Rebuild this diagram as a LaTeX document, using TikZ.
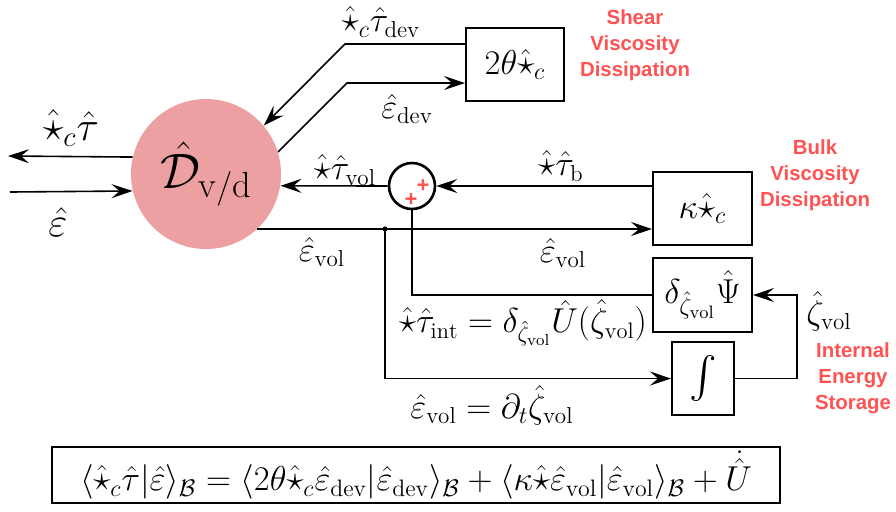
\documentclass[tikz,border=0pt]{standalone}
\usepackage{amsmath}
\usepackage{fontspec}
\newfontfamily\redfont{Liberation Sans}
\usetikzlibrary{arrows.meta}
\definecolor{pinkc}{RGB}{237,160,161}
\definecolor{redc}{RGB}{255,82,82}
\begin{document}
\begin{tikzpicture}[x=0.5pt,y=-0.5pt,
  wire/.style={line width=0.8pt},
  arr/.style={wire,-{Stealth[length=10.5pt,width=7pt,inset=4pt]}},
  blk/.style={draw,line width=1pt,inner sep=0pt,font=\fontsize{18}{21}\selectfont},
  lab/.style={inner sep=0pt,font=\fontsize{16.5}{19}\selectfont},
  biglab/.style={inner sep=0pt,font=\fontsize{21}{24}\selectfont},
  plus/.style={text=redc,inner sep=0pt,font=\redfont\bfseries\fontsize{11}{11}\selectfont},
  redlab/.style={text=redc,align=center,inner sep=0pt,font=\redfont\bfseries\fontsize{10.2}{13}\selectfont}]
\useasboundingbox (0,0) rectangle (896,511);
% main circle
\node[circle,fill=pinkc,minimum size=75pt,inner sep=0pt,font=\fontsize{26}{30}\selectfont] (D) at (206,174) {$\hat{\mathcal{D}}_{\mathrm{v/d}}$};
% blocks
\node[blk,minimum width=49pt,minimum height=36.5pt] (T) at (515,64.5) {$2\theta\hat{\star}_c$};
\node[blk,minimum width=49.5pt,minimum height=36.5pt] (K) at (702.5,208.5) {$\kappa\hat{\star}_c$};
\node[blk,minimum width=49.5pt,minimum height=37pt] (P) at (702.5,295) {$\delta_{\hat{\zeta}_{\mathrm{vol}}}\hat{\Psi}$};
\node[blk,minimum width=31pt,minimum height=36.5pt,font=\fontsize{20}{23}\selectfont] (I) at (703,378.5) {$\int$};
% summing junction
\node[circle,draw,line width=1.3pt,minimum size=23pt,inner sep=0pt] (S) at (412,186) {};
\node[plus] (p1) at (423,186) {+};
\node[plus] (p2) at (411,200) {+};
% coordinates
\coordinate (outl) at (8,156);
\coordinate (inl) at (10,192);
\coordinate (t1) at (345,44);
\coordinate (t2) at (347,83);
\coordinate (j) at (385,229);
\coordinate (rc) at (797,295);
% connectors
\draw[arr] (D.167) -- (outl);
\draw[arr] (inl) -- (D.193);
\draw[arr] ([yshift=10.25pt]T.west) -- (t1) -- (D.40);
\draw[arr] (D.17) -- (t2) -- ([yshift=-9.25pt]T.west);
\draw[arr] ([yshift=11.25pt]K.west) -- (S.east);
\draw[arr] (S.west) -- (D.-9);
\draw[arr] (j -| D.-47) -- ([yshift=-10.25pt]K.west);
\fill (j) circle (1.3pt);
\draw[arr] (j) |- (I.west);
\draw[wire] (S.south) |- (P.west);
\draw[arr] (I.east) -| (rc) -- (P.east);
% labels
\node[biglab] (l1) at (71,128) {$\hat{\star}_c\hat{\tau}$};
\node[biglab] (l2) at (58,222) {$\hat{\varepsilon}$};
\node[lab] (l3) at (381,22) {$\hat{\star}_c\hat{\tau}_{\mathrm{dev}}$};
\node[lab] (l4) at (407,109) {$\hat{\varepsilon}_{\mathrm{dev}}$};
\node[lab] (l5) at (345,170) {$\hat{\star}\hat{\tau}_{\mathrm{vol}}$};
\node[lab] (l6) at (561,166) {$\hat{\star}\hat{\tau}_{\mathrm{b}}$};
\node[lab] (l7) at (322,252) {$\hat{\varepsilon}_{\mathrm{vol}}$};
\node[lab] (l8) at (563,253) {$\hat{\varepsilon}_{\mathrm{vol}}$};
\node[lab,font=\fontsize{16}{19}\selectfont] (l9) at (523,323) {$\hat{\star}\hat{\tau}_{\mathrm{int}}=\delta_{\hat{\zeta}_{\mathrm{vol}}}\hat{U}(\hat{\zeta}_{\mathrm{vol}})$};
\node[lab] (l10) at (492,405) {$\hat{\varepsilon}_{\mathrm{vol}}=\partial_t\hat{\zeta}_{\mathrm{vol}}$};
\node[lab] (l11) at (829,311) {$\hat{\zeta}_{\mathrm{vol}}$};
% red annotations
\node[redlab] (r1) at (635,45) {Shear\\Viscosity\\Dissipation};
\node[redlab] (r2) at (815,175) {Bulk\\Viscosity\\Dissipation};
\node[redlab] (r3) at (853,378) {Internal\\Energy\\Storage};
% equation box
\node[draw,line width=1.3pt,minimum width=364pt,minimum height=28pt,inner sep=0pt,font=\fontsize{17}{20}\selectfont] (E) at (416,475)
 {$\langle\hat{\star}_c\hat{\tau}|\hat{\varepsilon}\rangle_{\mathcal{B}}=\langle2\theta\hat{\star}_c\hat{\varepsilon}_{\mathrm{dev}}|\hat{\varepsilon}_{\mathrm{dev}}\rangle_{\mathcal{B}}+\langle\kappa\hat{\star}\hat{\varepsilon}_{\mathrm{vol}}|\hat{\varepsilon}_{\mathrm{vol}}\rangle_{\mathcal{B}}+\dot{\hat{U}}$};
\end{tikzpicture}
\end{document}
